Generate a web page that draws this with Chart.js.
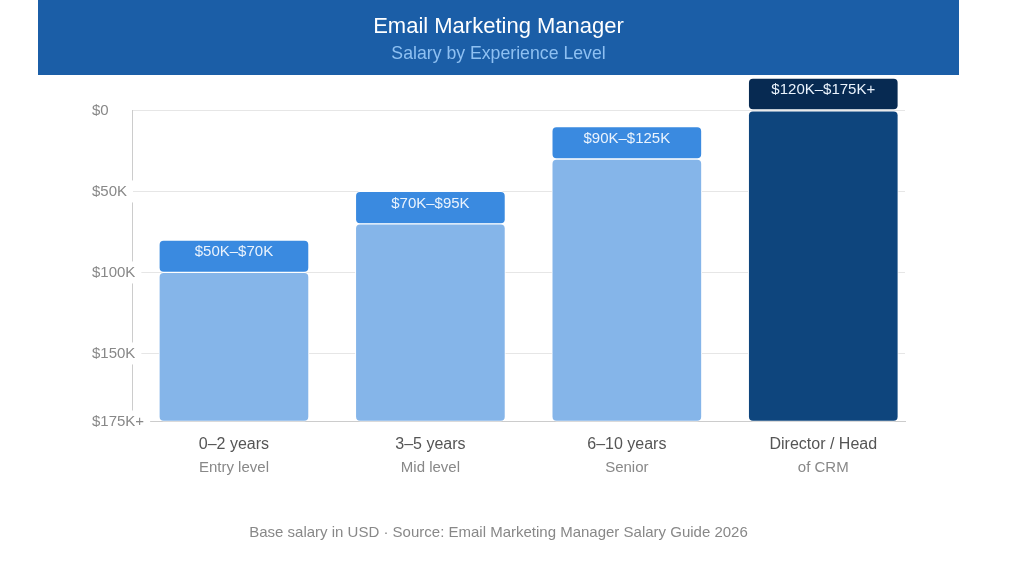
<!DOCTYPE html>
<html>
<head>
<meta charset="utf-8">
<script src="https://cdn.jsdelivr.net/npm/chart.js@4.4.1/dist/chart.umd.min.js"></script>
<style>
  html, body { margin: 0; padding: 0; background: #ffffff; }
  #c { position: absolute; left: 38px; top: 0; }
</style>
</head>
<body>
<canvas id="c" width="921" height="564"></canvas>
<script>
// ---- Data ----
const categories = ['0–2 years', '3–5 years', '6–10 years', 'Director / Head'];
const levels = ['Entry level', 'Mid level', 'Senior', 'of CRM'];
const rangeLabels = ['$50K–$70K', '$70K–$95K', '$90K–$125K', '$120K–$175K+'];
const capStart = [80, 50, 10, -20];
const capEnd = [100, 70, 30, 0];
const axisMax = 192;
const yTickValues = [0, 50, 100, 150, 192];
const yTickLabels = ['$0', '$50K', '$100K', '$150K', '$175K+'];
const titleText = 'Email Marketing Manager';
const subtitleText = 'Salary by Experience Level';
const footerText = 'Base salary in USD · Source: Email Marketing Manager Salary Guide 2026';

// ---- Styles ----
const bodyColors = ['#85b5e9', '#85b5e9', '#85b5e9', '#0e457d'];
const capColors = ['#3a8ae0', '#3a8ae0', '#3a8ae0', '#072a52'];
const FONT = '"Liberation Sans", Arial, Helvetica, sans-serif';
Chart.defaults.font.family = FONT;

const bodyData = categories.map((c, i) => ({ x: i, y: [capEnd[i], axisMax] }));
const capData = categories.map((c, i) => ({ x: i, y: [capStart[i], capEnd[i]] }));

const headerBand = {
  id: 'headerBand',
  beforeDraw(chart) {
    const ctx = chart.ctx;
    ctx.save();
    ctx.fillStyle = '#1b5ea7';
    ctx.fillRect(0, 0, chart.width, 75);
    ctx.restore();
  }
};

const capLabels = {
  id: 'capLabels',
  afterDatasetsDraw(chart) {
    const ctx = chart.ctx;
    const meta = chart.getDatasetMeta(1);
    ctx.save();
    ctx.font = '15px ' + FONT;
    ctx.fillStyle = '#eaf3fd';
    ctx.textAlign = 'center';
    ctx.textBaseline = 'middle';
    meta.data.forEach((bar, i) => {
      const top = Math.min(bar.y, bar.base);
      ctx.fillText(rangeLabels[i], bar.x, top + 12);
    });
    ctx.restore();
  }
};

const footer = {
  id: 'footer',
  afterDraw(chart) {
    const ctx = chart.ctx;
    ctx.save();
    ctx.font = '15px ' + FONT;
    ctx.fillStyle = '#888888';
    ctx.textAlign = 'center';
    ctx.textBaseline = 'middle';
    ctx.fillText(footerText, chart.width / 2, 533);
    ctx.restore();
  }
};

const xMin = -0.519, xMax = 3.416;

new Chart(document.getElementById('c'), {
  type: 'bar',
  data: {
    datasets: [
      {
        label: 'Range',
        data: bodyData,
        backgroundColor: bodyColors,
        borderColor: '#ffffff',
        borderWidth: 1,
        borderSkipped: false,
        borderRadius: 5,
        barThickness: 150,
        grouped: false
      },
      {
        label: 'Band',
        data: capData,
        backgroundColor: capColors,
        borderColor: '#ffffff',
        borderWidth: 1,
        borderSkipped: false,
        borderRadius: 5,
        barThickness: 150,
        grouped: false,
        clip: false
      }
    ]
  },
  options: {
    responsive: false,
    animation: false,
    layout: { padding: { left: 54, right: 54, top: 0, bottom: 79.5 } },
    plugins: {
      legend: { display: false },
      tooltip: { enabled: false },
      title: {
        display: true,
        text: titleText,
        color: '#ffffff',
        font: { size: 22, weight: 'normal' },
        padding: { top: 13.5, bottom: 0 }
      },
      subtitle: {
        display: true,
        text: subtitleText,
        color: '#8ec0f2',
        font: { size: 17.7, weight: 'normal' },
        padding: { top: 4, bottom: 45.3 }
      }
    },
    scales: {
      x: {
        type: 'linear',
        min: xMin,
        max: xMax,
        offset: false,
        position: 'bottom',
        grid: { display: false, drawTicks: false, offset: false },
        border: { display: true, color: '#cccccc', width: 1 },
        afterBuildTicks: s => { s.ticks = categories.map((c, i) => ({ value: i })); },
        afterFit: s => { s.height = 33; },
        ticks: {
          padding: 13,
          color: '#555555',
          font: { size: 16 },
          autoSkip: false,
          maxRotation: 0,
          callback: v => categories[v]
        }
      },
      x2: {
        type: 'linear',
        min: xMin,
        max: xMax,
        offset: false,
        position: 'bottom',
        grid: { display: false, drawTicks: false, offset: false },
        border: { display: false },
        afterBuildTicks: s => { s.ticks = levels.map((c, i) => ({ value: i })); },
        afterFit: s => { s.height = 30; },
        ticks: {
          padding: 4.5,
          color: '#888888',
          font: { size: 15 },
          autoSkip: false,
          maxRotation: 0,
          callback: v => levels[v]
        }
      },
      y: {
        type: 'linear',
        reverse: true,
        min: 0,
        max: axisMax,
        grid: { color: '#e6e6e6', drawTicks: false },
        border: { display: true, color: '#cccccc', width: 1 },
        afterBuildTicks: s => { s.ticks = yTickValues.map(v => ({ value: v })); },
        afterFit: s => { s.width = 40; },
        ticks: {
          mirror: true,
          padding: -40,
          crossAlign: 'near',
          color: '#888888',
          font: { size: 15 },
          showLabelBackdrop: true,
          backdropColor: '#ffffff',
          backdropPadding: { top: 2, bottom: 2, left: 2, right: 6 },
          callback: v => yTickLabels[yTickValues.indexOf(v)]
        }
      }
    }
  },
  plugins: [headerBand, capLabels, footer]
});
</script>
</body>
</html>
